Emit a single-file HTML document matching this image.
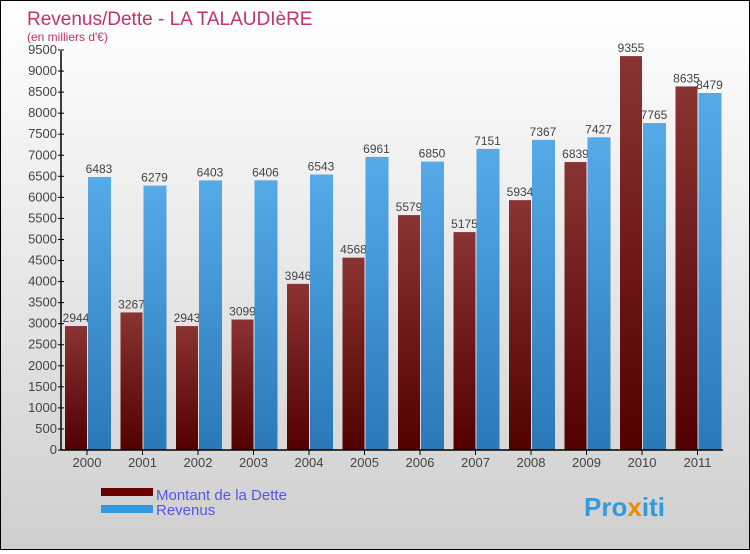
<!DOCTYPE html>
<html><head><meta charset="utf-8"><style>
body{margin:0;width:750px;height:550px;overflow:hidden;font-family:"Liberation Sans",sans-serif}
#wrap{position:absolute;left:0;top:0;width:748px;height:548px;border:1px solid #000;background:linear-gradient(#ffffff,#cfcfcf)}
</style></head><body>
<div id="wrap">
<svg width="748" height="548">
<defs>
<linearGradient id="gd" x1="0" y1="0" x2="0" y2="1"><stop offset="0" stop-color="#8a3333"/><stop offset="1" stop-color="#520000"/></linearGradient>
<linearGradient id="gr" x1="0" y1="0" x2="0" y2="1"><stop offset="0" stop-color="#56aae8"/><stop offset="1" stop-color="#2a78b8"/></linearGradient>
</defs>
<text x="26" y="24" font-size="19" fill="#c0336e">Revenus/Dette - LA TALAUDIèRE</text>
<text x="26" y="40" font-size="12" fill="#c0336e">(en milliers d'€)</text>
<g id="plot"></g>
<rect x="100" y="487" width="52" height="8" fill="#6a0000"/>
<text x="155" y="499" font-size="15" fill="#5555ee">Montant de la Dette</text>
<rect x="100" y="504" width="52" height="8" fill="#3399dd"/>
<text x="155" y="514" font-size="15" fill="#5555ee">Revenus</text>
<text x="583" y="515" font-size="26" font-weight="bold" fill="#3399dd">Pro<tspan fill="#ee8800">x</tspan>iti</text>
</svg></div>
<script>
const years=["2000","2001","2002","2003","2004","2005","2006","2007","2008","2009","2010","2011"];
const dette=[2944,3267,2943,3099,3946,4568,5579,5175,5934,6839,9355,8635];
const revenus=[6483,6279,6403,6406,6543,6961,6850,7151,7367,7427,7765,8479];
const yTicks=[0,500,1000,1500,2000,2500,3000,3500,4000,4500,5000,5500,6000,6500,7000,7500,8000,8500,9000,9500];
const NS="http://www.w3.org/2000/svg";
const g=document.getElementById('plot');
const y=v=>449-v*400/9500;
const x=i=>86+i*55.5;
function mk(t,a){const e=document.createElementNS(NS,t);for(const k in a)e.setAttribute(k,a[k]);g.appendChild(e);return e;}
dette.forEach((v,i)=>{
 const r=mk('rect',{x:x(i)-22,y:y(v),width:22,height:449-y(v),fill:'url(#gd)'});
 
 
 const t=mk('text',{x:x(i)-11,y:y(v)-4,'font-size':12,fill:'#444','text-anchor':'middle'});t.textContent=v;
 
 
});
revenus.forEach((v,i)=>{
 const r=mk('rect',{x:x(i)+1,y:y(v),width:23,height:449-y(v),fill:'url(#gr)'});
 
 
 const t=mk('text',{x:x(i)+12,y:y(v)-4,'font-size':12,fill:'#444','text-anchor':'middle'});t.textContent=v;
 
 
});
const ax=mk('path',{d:'M60 50V449H722',stroke:'#000','stroke-width':1.5,fill:'none'});


yTicks.forEach(v=>{
 mk('line',{x1:57,x2:63,y1:y(v),y2:y(v),stroke:'#000'});
 const t=mk('text',{x:56,y:y(v)+4,'font-size':13,fill:'#444','text-anchor':'end'});t.textContent=v;
 
 
});
years.forEach((yr,i)=>{
 mk('line',{x1:x(i),x2:x(i),y1:449,y2:454,stroke:'#000'});
 const t=mk('text',{x:x(i),y:466,'font-size':13,fill:'#444','text-anchor':'middle'});t.textContent=yr;
 
 
});
</script>
</body></html>
